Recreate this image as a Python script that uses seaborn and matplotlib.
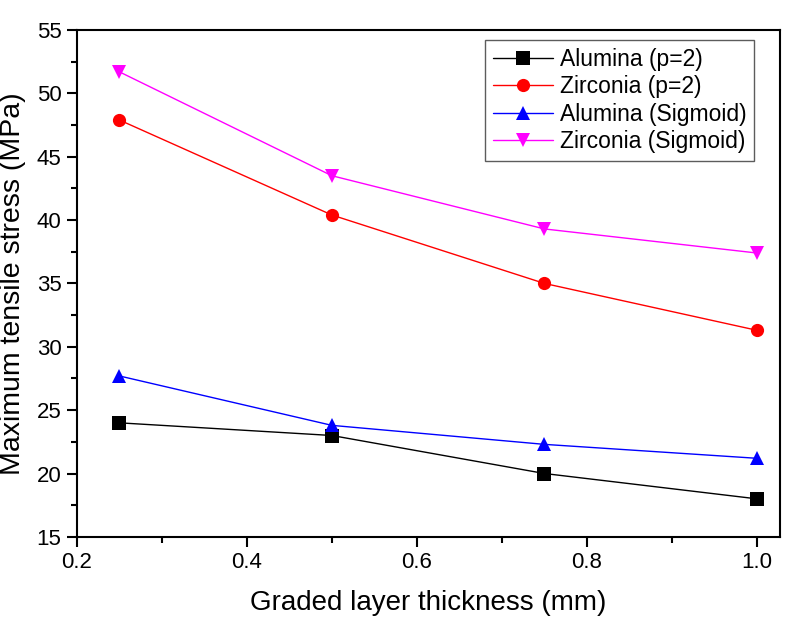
import matplotlib
matplotlib.use("Agg")
import matplotlib.pyplot as plt
import seaborn as sns
import pandas as pd
from matplotlib.ticker import MultipleLocator

# datos
espesor = [0.25, 0.5, 0.75, 1.0]
alumina_p2 = [24.0, 23.0, 20.0, 18.0]
zirconia_p2 = [47.9, 40.4, 35.0, 31.3]
alumina_sig = [27.7, 23.8, 22.3, 21.2]
zirconia_sig = [51.7, 43.5, 39.3, 37.4]

series = ["Alumina (p=2)", "Zirconia (p=2)", "Alumina (Sigmoid)", "Zirconia (Sigmoid)"]
valores = [alumina_p2, zirconia_p2, alumina_sig, zirconia_sig]

df = pd.concat([pd.DataFrame({"x": espesor, "y": v, "serie": s}) for s, v in zip(series, valores)])

sns.set_theme(style="ticks")
plt.rcParams['font.family'] = ['Liberation Sans', 'DejaVu Sans']
plt.rcParams['text.color'] = 'black'
plt.rcParams['axes.labelcolor'] = 'black'

fig = plt.figure(figsize=(8, 6.25), dpi=100)
ax = fig.add_axes([0.096, 0.141, 0.879, 0.811])

colores = {"Alumina (p=2)": "black", "Zirconia (p=2)": "#ff0000",
           "Alumina (Sigmoid)": "#0000ff", "Zirconia (Sigmoid)": "#ff00ff"}
marcadores = {"Alumina (p=2)": "s", "Zirconia (p=2)": "o",
              "Alumina (Sigmoid)": "^", "Zirconia (Sigmoid)": "v"}

sns.lineplot(data=df, x="x", y="y", hue="serie", style="serie", palette=colores,
             markers=marcadores, dashes=False, markersize=9.5, linewidth=1,
             markeredgewidth=0, ax=ax)

ax.set_xlim(0.2, 1.027)
ax.set_ylim(15, 55)
ax.xaxis.set_minor_locator(MultipleLocator(0.1))
ax.yaxis.set_major_locator(MultipleLocator(5))
ax.yaxis.set_minor_locator(MultipleLocator(2.5))
ax.set_xticks([0.2, 0.4, 0.6, 0.8, 1.0])
ax.set_xticklabels(["0.2", "0.4", "0.6", "0.8", "1.0"])
ax.tick_params(which="major", direction="out", length=7, width=1.5, labelsize=16,
               colors="black", labelcolor="black", pad=4)
ax.tick_params(which="minor", direction="out", length=4, width=1.5, colors="black")
for sp in ax.spines.values():
    sp.set_linewidth(1.5)
    sp.set_color("black")

ax.set_xlabel("Graded layer thickness (mm)", fontsize=20, labelpad=12)
ax.set_ylabel("Maximum tensile stress (MPa)", fontsize=20.5, labelpad=8)

leg = ax.legend(loc="upper right", bbox_to_anchor=(0.97, 0.99), fontsize=16.5, frameon=True,
                fancybox=False, edgecolor="#333333", borderpad=0.35, handlelength=2.6,
                labelspacing=0.2, handletextpad=0.3, borderaxespad=0.2)
leg.get_frame().set_linewidth(1)

fig.savefig("out.png", dpi=100)
